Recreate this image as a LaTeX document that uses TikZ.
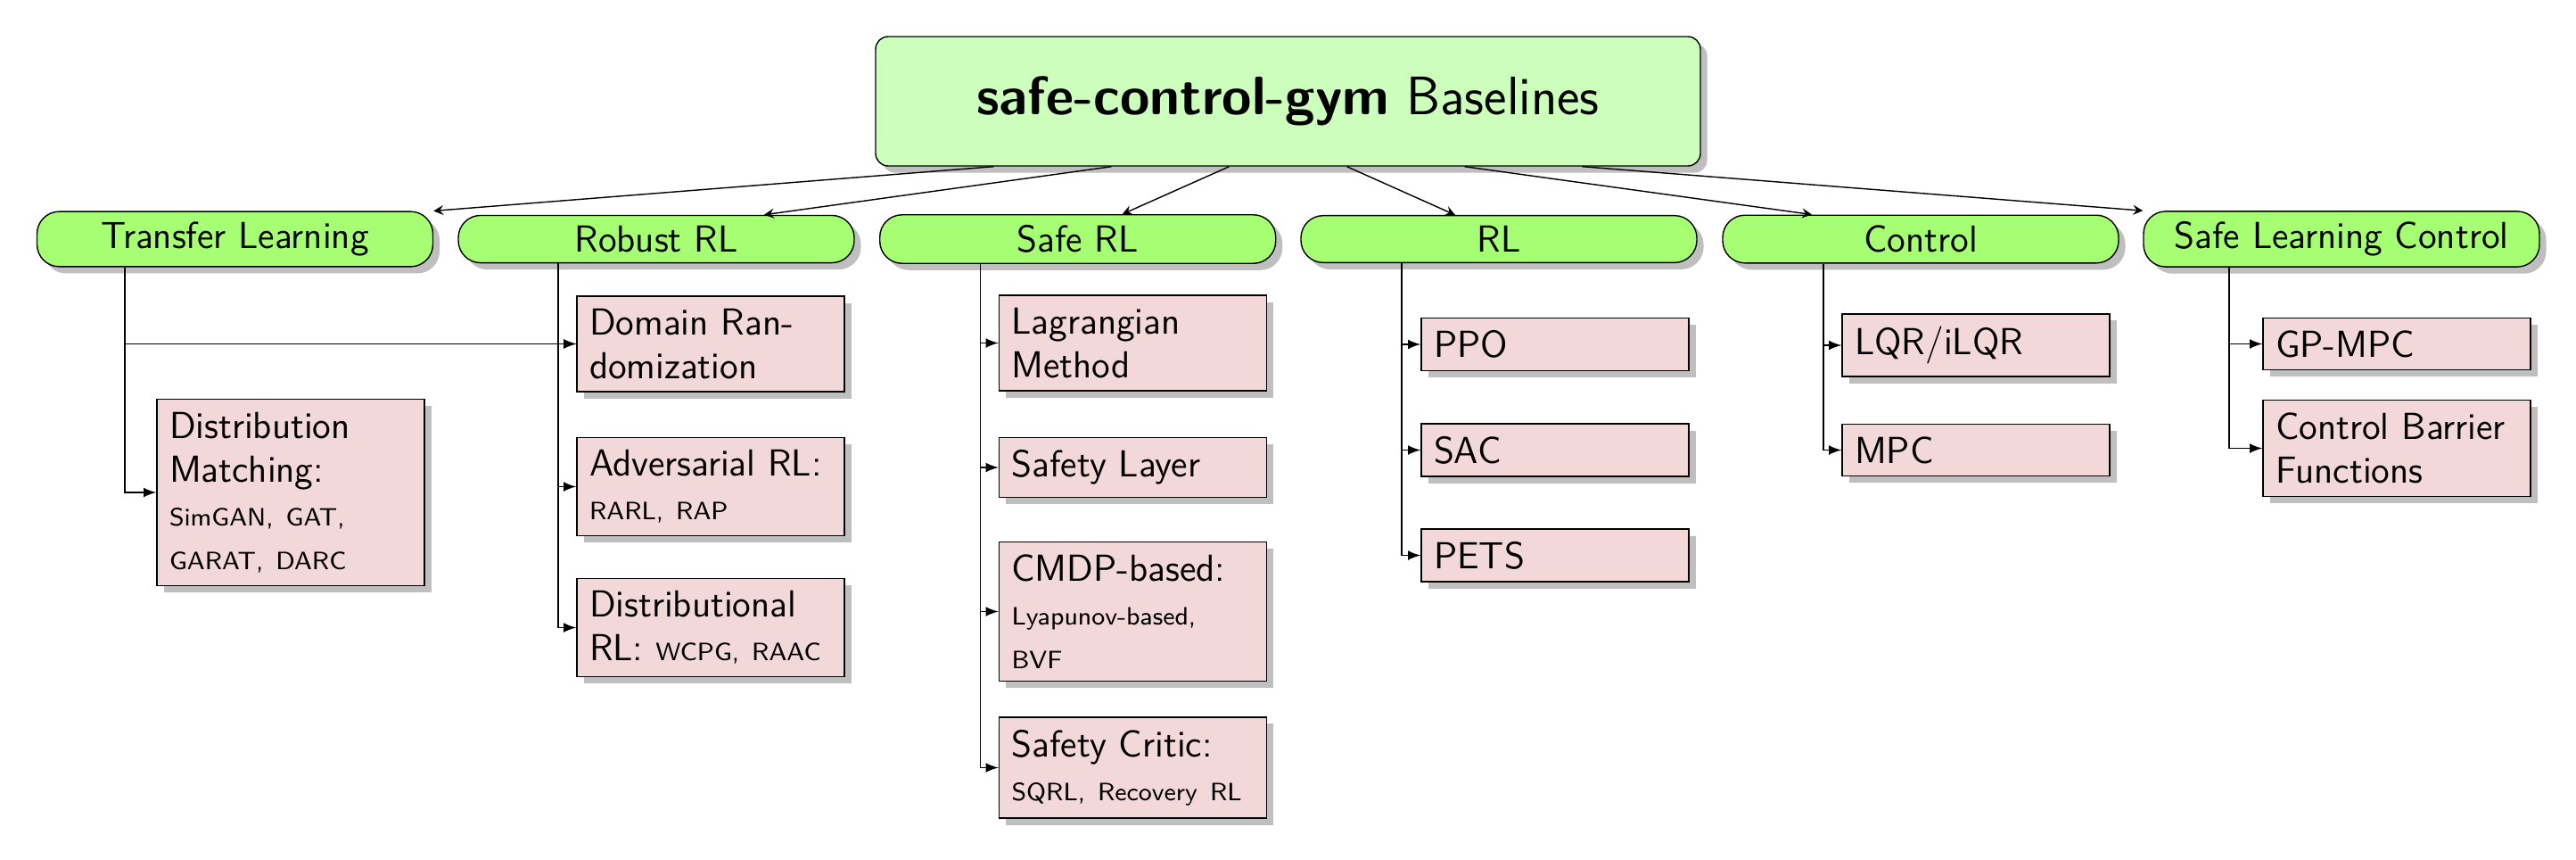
\documentclass[tikz,border=0pt]{standalone}
\usepackage{fontspec}
\usetikzlibrary{shadows,arrows}

\definecolor{rootgreen}{RGB}{204,255,187}
\definecolor{catgreen}{RGB}{166,255,115}
\definecolor{algopink}{RGB}{243,216,218}

\tikzset{
    root/.style={draw, fill=rootgreen, rounded corners, drop shadow,
        minimum width=9.25cm, minimum height=1.45cm, font=\sffamily\LARGE},
    category/.style={draw, fill=catgreen, rounded corners=2.5mm, drop shadow,
        minimum width=4.44cm, font=\sffamily\large},
    algo/.style={draw, fill=algopink, drop shadow, text width=2.72cm,
        inner sep=4pt, font=\sffamily\large},
    toparrow/.style={-stealth},
    subarrow/.style={-latex},
}

\begin{document}
\begin{tikzpicture}
    \useasboundingbox (0,0) rectangle (28.89,-9.63);

    \node [root] (top) at (14.445,-1.135) {\textbf{safe-control-gym} Baselines};

    \node [category] (tl) at (2.635,-2.68) {Transfer Learning};
    \node [category] (rob) at (7.36,-2.68) {Robust RL};
    \node [category] (srl) at (12.087,-2.68) {Safe RL};
    \node [category] (rl) at (16.81,-2.68) {RL};
    \node [category] (ctrl) at (21.54,-2.68) {Control};
    \node [category] (slc) at (26.26,-2.68) {Safe Learning Control};

    \draw [toparrow] ([xshift=-3.3cm]top.south) -- (tl.north east);
    \draw [toparrow] ([xshift=-1.98cm]top.south) -- ([xshift=1.21cm]rob.north);
    \draw [toparrow] ([xshift=-0.66cm]top.south) -- ([xshift=0.5cm]srl.north);
    \draw [toparrow] ([xshift=0.66cm]top.south) -- ([xshift=-0.49cm]rl.north);
    \draw [toparrow] ([xshift=1.98cm]top.south) -- ([xshift=-1.22cm]ctrl.north);
    \draw [toparrow] ([xshift=3.3cm]top.south) -- (slc.north west);

    \node [algo] (dm) at (3.26,-5.52) {Distribution Matching:\\ {\footnotesize\hyphenpenalty=10000 SimGAN, GAT, GARAT, DARC}};

    \node [algo] (dr) at (7.97,-3.855) {Domain Randomization};
    \node [algo] (adv) at (7.97,-5.455) {Adversarial RL: {\footnotesize RARL, RAP}};
    \node [algo] (drl) at (7.97,-7.035) {Distributional RL: {\footnotesize WCPG, RAAC}};

    \node [algo] (lag) at (12.705,-3.845) {Lagrangian Method};
    \node [algo] (sl) at (12.705,-5.24) {Safety Layer};
    \node [algo] (cmdp) at (12.705,-6.855) {CMDP-based: {\footnotesize Lyapunov-based, BVF}};
    \node [algo] (sc) at (12.705,-8.605) {Safety Critic: {\footnotesize SQRL, Recovery RL}};

    \node [algo] (ppo) at (17.44,-3.86) {PPO};
    \node [algo] (sac) at (17.44,-5.045) {SAC};
    \node [algo] (pets) at (17.44,-6.225) {PETS};

    \node [algo] (lqr) at (22.16,-3.87) {LQR/iLQR};
    \node [algo] (mpc) at (22.16,-5.045) {MPC};

    \node [algo] (gpmpc) at (26.88,-3.855) {GP-MPC};
    \node [algo] (cbf) at (26.88,-5.025) {Control Barrier Functions};

    \draw [subarrow] ([xshift=-1.235cm]tl.south) |- (dr.west);
    \draw [subarrow] ([xshift=-1.235cm]tl.south) |- (dm.west);

    \draw [subarrow] ([xshift=-1.1cm]rob.south) |- (dr.west);
    \draw [subarrow] ([xshift=-1.1cm]rob.south) |- (adv.west);
    \draw [subarrow] ([xshift=-1.1cm]rob.south) |- (drl.west);

    \draw [subarrow] ([xshift=-1.09cm]srl.south) |- (lag.west);
    \draw [subarrow] ([xshift=-1.09cm]srl.south) |- (sl.west);
    \draw [subarrow] ([xshift=-1.09cm]srl.south) |- (cmdp.west);
    \draw [subarrow] ([xshift=-1.09cm]srl.south) |- (sc.west);

    \draw [subarrow] ([xshift=-1.09cm]rl.south) |- (ppo.west);
    \draw [subarrow] ([xshift=-1.09cm]rl.south) |- (sac.west);
    \draw [subarrow] ([xshift=-1.09cm]rl.south) |- (pets.west);

    \draw [subarrow] ([xshift=-1.09cm]ctrl.south) |- (lqr.west);
    \draw [subarrow] ([xshift=-1.09cm]ctrl.south) |- (mpc.west);

    \draw [subarrow] ([xshift=-1.26cm]slc.south) |- (gpmpc.west);
    \draw [subarrow] ([xshift=-1.26cm]slc.south) |- (cbf.west);
\end{tikzpicture}
\end{document}
